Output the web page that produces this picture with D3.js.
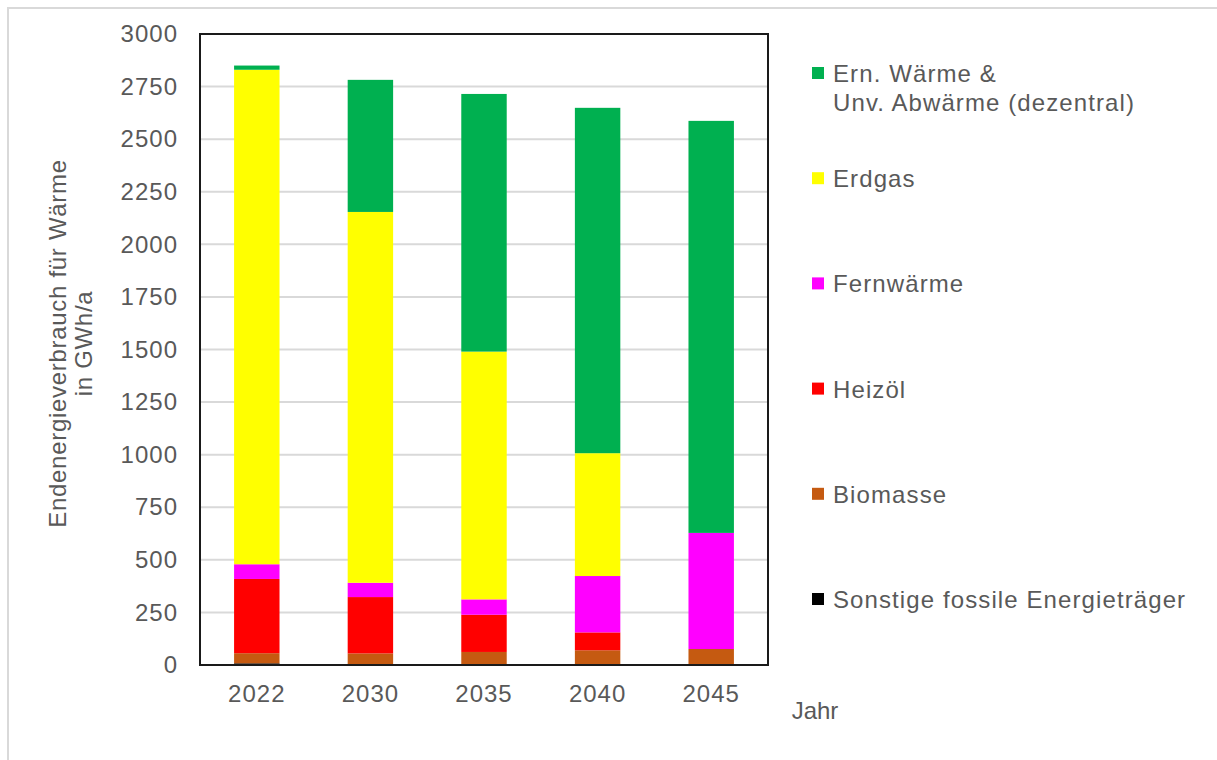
<!DOCTYPE html>
<html>
<head>
<meta charset="utf-8">
<script src="https://cdn.jsdelivr.net/npm/d3@7"></script>
<style>
  html, body { margin: 0; padding: 0; background: #fff; }
  svg { display: block; font-family: "Liberation Sans", Arial, sans-serif; }
</style>
</head>
<body>
<svg id="chart" width="1217" height="760"></svg>
<script>
// Endenergieverbrauch für Wärme nach Energieträger (GWh/a)
const years = ["2022", "2030", "2035", "2040", "2045"];
const sonstige  = [8, 0, 0, 0, 0];
const biomasse  = [48, 55, 62, 70, 76];
const heizoel   = [353, 268, 177, 85, 0];
const fernwaerme = [70, 68, 73, 268, 552];
const erdgas    = [2351, 1763, 1178, 584, 0];
const ernWaerme = [20, 628, 1225, 1642, 1959];
const yTicks = [0, 250, 500, 750, 1000, 1250, 1500, 1750, 2000, 2250, 2500, 2750, 3000];

// stacking order bottom -> top
const series = [
  { key: "sonstige", name: ["Sonstige fossile Energieträger"], values: sonstige, color: "#000000" },
  { key: "biomasse", name: ["Biomasse"], values: biomasse, color: "#c55a11" },
  { key: "heizoel", name: ["Heizöl"], values: heizoel, color: "#ff0000" },
  { key: "fernwaerme", name: ["Fernwärme"], values: fernwaerme, color: "#ff00ff" },
  { key: "erdgas", name: ["Erdgas"], values: erdgas, color: "#ffff00" },
  { key: "ern", name: ["Ern. Wärme &", "Unv. Abwärme (dezentral)"], values: ernWaerme, color: "#00b050" }
];

const rows = years.map((y, i) => {
  const r = { year: y };
  series.forEach(s => { r[s.key] = s.values[i]; });
  return r;
});

const svg = d3.select("#chart");
const textColor = "#595959";
const plot = { left: 200, top: 34, right: 768, bottom: 665 };

// outer frame of the chart area
svg.append("rect")
  .attr("x", 8).attr("y", 8)
  .attr("width", 1240).attr("height", 800)
  .attr("fill", "none").attr("stroke", "#d9d9d9").attr("stroke-width", 2);

const x = d3.scaleBand()
  .domain(years)
  .range([plot.left, plot.right])
  .paddingInner(0.6)
  .paddingOuter(0.3);

const y = d3.scaleLinear()
  .domain([0, 3000])
  .range([plot.bottom, plot.top]);

// horizontal gridlines
svg.append("g")
  .selectAll("line")
  .data(yTicks.filter(t => t > 0 && t < 3000))
  .join("line")
  .attr("x1", plot.left).attr("x2", plot.right)
  .attr("y1", d => y(d)).attr("y2", d => y(d))
  .attr("stroke", "#d9d9d9").attr("stroke-width", 2);

// stacked bars
const stack = d3.stack().keys(series.map(s => s.key));
const stacked = stack(rows);

svg.append("g")
  .selectAll("g")
  .data(stacked)
  .join("g")
  .attr("fill", (d, i) => series[i].color)
  .selectAll("rect")
  .data(d => d)
  .join("rect")
  .attr("x", d => x(d.data.year))
  .attr("width", x.bandwidth())
  .attr("y", d => y(d[1]))
  .attr("height", d => Math.max(0, y(d[0]) - y(d[1])));

// plot frame
svg.append("rect")
  .attr("x", plot.left).attr("y", plot.top)
  .attr("width", plot.right - plot.left)
  .attr("height", plot.bottom - plot.top)
  .attr("fill", "none").attr("stroke", "#1a1a1a").attr("stroke-width", 2);

// y axis (labels only)
const yAxis = d3.axisLeft(y).tickValues(yTicks).tickFormat(d3.format("d")).tickSize(0).tickPadding(0);
const gy = svg.append("g")
  .attr("transform", `translate(${plot.left - 22},0)`)
  .call(yAxis);
gy.select(".domain").remove();
gy.selectAll("text")
  .attr("fill", textColor)
  .attr("font-size", 24)
  .attr("letter-spacing", "1px")
  .attr("font-family", "Liberation Sans, Arial, sans-serif");

// x axis (labels only)
const xAxis = d3.axisBottom(x).tickSize(0).tickPadding(0);
const gx = svg.append("g")
  .attr("transform", `translate(0,${plot.bottom + 20})`)
  .call(xAxis);
gx.select(".domain").remove();
gx.selectAll("text")
  .attr("fill", textColor)
  .attr("font-size", 24)
  .attr("letter-spacing", "1px")
  .attr("font-family", "Liberation Sans, Arial, sans-serif");

// axis titles
svg.append("text")
  .attr("x", 815).attr("y", 719)
  .attr("text-anchor", "middle")
  .attr("fill", textColor)
  .attr("font-size", 24)
  .text("Jahr");

const yTitle = svg.append("text")
  .attr("transform", `translate(66,${(plot.top + plot.bottom) / 2 - 6}) rotate(-90)`)
  .attr("text-anchor", "middle")
  .attr("fill", textColor)
  .attr("font-size", 24)
  .attr("letter-spacing", "0.7px");
yTitle.append("tspan").attr("x", 0).attr("dy", 0).text("Endenergieverbrauch für Wärme");
yTitle.append("tspan").attr("x", 0).attr("dy", 26).text("in GWh/a");

// legend, top entry = top of stack
const legendItems = series.slice().reverse();
const legendY = d3.scalePoint()
  .domain(legendItems.map(s => s.key))
  .range([73, 599]);

const lg = svg.append("g")
  .selectAll("g")
  .data(legendItems)
  .join("g")
  .attr("transform", d => `translate(812,${legendY(d.key)})`);

lg.append("rect")
  .attr("x", 0).attr("y", -6)
  .attr("width", 12).attr("height", 12)
  .attr("fill", d => d.color);

lg.append("text")
  .attr("fill", textColor)
  .attr("font-size", 24)
  .attr("letter-spacing", "1.1px")
  .selectAll("tspan")
  .data(d => d.name)
  .join("tspan")
  .attr("x", 21)
  .attr("y", (d, i) => 9 + i * 29)
  .text(d => d);
</script>
</body>
</html>
